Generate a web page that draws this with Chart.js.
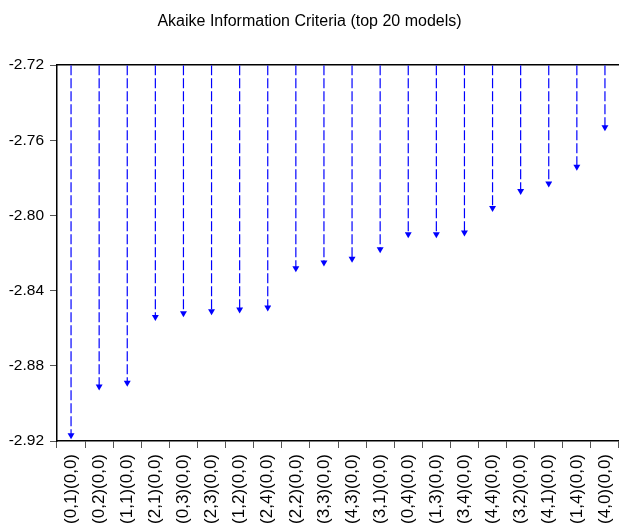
<!DOCTYPE html>
<html>
<head>
<meta charset="utf-8">
<script src="https://cdn.jsdelivr.net/npm/chart.js@4.4.1/dist/chart.umd.min.js"></script>
<style>
  html, body { margin: 0; padding: 0; background: #fff; }
  #wrap { width: 619px; height: 525px; }
</style>
</head>
<body>
<div id="wrap"><canvas id="aicChart" width="619" height="525"></canvas></div>
<script>
// models ranked by AIC (ARMA)(SARMA)
const models = [
  '(0,1)(0,0)', '(0,2)(0,0)', '(1,1)(0,0)', '(2,1)(0,0)', '(0,3)(0,0)',
  '(2,3)(0,0)', '(1,2)(0,0)', '(2,4)(0,0)', '(2,2)(0,0)', '(3,3)(0,0)',
  '(4,3)(0,0)', '(3,1)(0,0)', '(0,4)(0,0)', '(1,3)(0,0)', '(3,4)(0,0)',
  '(4,4)(0,0)', '(3,2)(0,0)', '(4,1)(0,0)', '(1,4)(0,0)', '(4,0)(0,0)'
];
const aicValues = [
  -2.917, -2.891, -2.889, -2.854, -2.852,
  -2.851, -2.850, -2.849, -2.828, -2.825,
  -2.823, -2.818, -2.810, -2.810, -2.809,
  -2.796, -2.787, -2.783, -2.774, -2.753
];
const baseline = -2.72;
const yTicks = [-2.92, -2.88, -2.84, -2.80, -2.76, -2.72];

const fontFamily = '"Liberation Sans", Arial, sans-serif';

// stems from the top of the axis down to each value, broken by nulls
const stems = [];
models.forEach((m, i) => {
  stems.push({ x: m, y: baseline });
  stems.push({ x: m, y: aicValues[i] });
  stems.push({ x: m, y: null });
});
const heads = models.map((m, i) => ({ x: m, y: aicValues[i] }));

const noSidePadding = (axis) => {
  axis.paddingLeft = 0;
  axis.paddingRight = 0;
};

const ctx = document.getElementById('aicChart').getContext('2d');
new Chart(ctx, {
  type: 'line',
  data: {
    labels: models,
    datasets: [{
      data: stems,
      borderColor: '#0000ff',
      borderWidth: 1.2,
      borderDash: [10, 3],
      pointRadius: 0,
      spanGaps: false,
      tension: 0
    }, {
      data: heads,
      showLine: false,
      pointStyle: 'triangle',
      rotation: 180,
      pointRadius: 4,
      pointBackgroundColor: '#0000ff',
      pointBorderColor: '#0000ff',
      pointBorderWidth: 0
    }]
  },
  options: {
    responsive: false,
    animation: false,
    // plot area runs to the right edge like the original
    layout: { padding: 0, autoPadding: false },
    plugins: {
      legend: { display: false },
      tooltip: { enabled: false },
      title: {
        display: true,
        text: 'Akaike Information Criteria (top 20 models)',
        color: '#000',
        font: { family: fontFamily, size: 16, weight: 'normal' },
        padding: { top: 12, bottom: 26 }
      }
    },
    scales: {
      x: {
        type: 'category',
        offset: true,
        grid: { display: true, drawOnChartArea: false, offset: true, tickLength: 7, color: '#555' },
        border: { display: true, color: '#000', width: 1.5 },
        ticks: {
          autoSkip: false,
          minRotation: 90,
          maxRotation: 90,
          padding: 6,
          color: '#000',
          font: { family: fontFamily, size: 17 }
        },
        // labels run off the bottom edge in the original
        afterFit: (axis) => {
          axis.height = 84;
          noSidePadding(axis);
        }
      },
      xTop: {
        type: 'category',
        position: 'top',
        offset: true,
        grid: { display: false },
        border: { display: true, color: '#000', width: 1.5 },
        ticks: { display: false },
        afterFit: noSidePadding
      },
      y: {
        min: -2.92,
        max: -2.72,
        afterBuildTicks: (axis) => { axis.ticks = yTicks.map(v => ({ value: v })); },
        afterFit: (axis) => { axis.width = 57; },
        grid: { display: true, drawOnChartArea: false, tickLength: 7, color: '#555' },
        border: { display: true, color: '#000', width: 1.5 },
        ticks: {
          padding: 6,
          color: '#000',
          font: { family: fontFamily, size: 15.5 },
          callback: (v) => Number(v).toFixed(2)
        }
      }
    }
  }
});
</script>
</body>
</html>
